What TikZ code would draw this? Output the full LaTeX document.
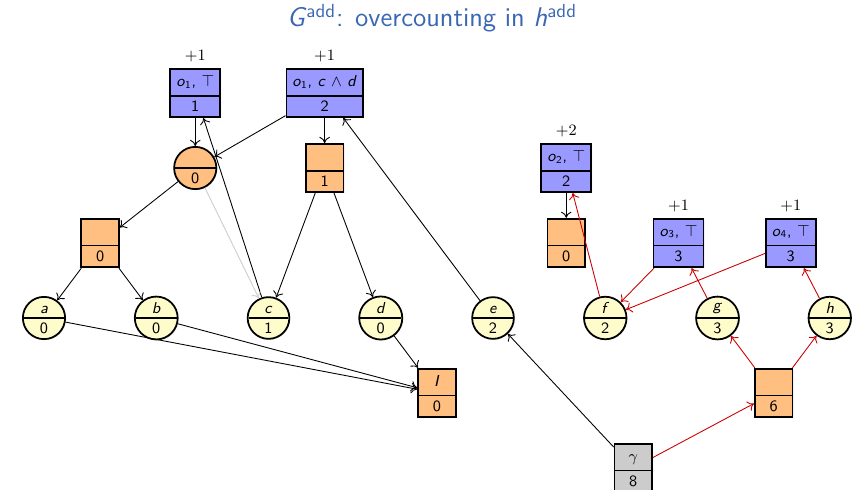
\documentclass[tikz,border=0pt]{standalone}
\usepackage{tikz}
\usetikzlibrary{arrows.meta,positioning,shadows,shapes.multipart}
\renewcommand{\familydefault}{\sfdefault}
\definecolor{titleblue}{RGB}{58,103,178}

\begin{document}
\begin{tikzpicture} [
		auto,
		node distance = 1.5cm and 2.245cm, on grid,
		every node/.style = {font=\small},
		fact/.style   = { circle split, draw=black, line width=1pt,
			fill=yellow!20, minimum size=0.8cm, inner sep=2.2pt,
			drop shadow={shadow xshift=.5pt, shadow yshift=-.5pt, opacity=.35} },
		ofact/.style  = { fact, fill=orange!50 },
		union/.style  = { rectangle split, rectangle split parts=2, draw=black,
			line width=1pt, fill=orange!50, minimum width=0.75cm,
			text height=2.4mm, text depth=0.8mm, inner ysep=0.9mm, inner xsep=1.2mm,
			text centered,
			drop shadow={shadow xshift=.5pt, shadow yshift=-.5pt, opacity=.35} },
		action/.style = { union, fill=blue!40 },
		cost/.style   = { label={[label distance=0pt]above:$+#1$} },
		goal/.style   = { union, fill=black!20 },
		line/.style   = { draw, line width=0.5pt, -{To[length=3.5pt, width=6pt]} },
	]
	\useasboundingbox (0,0) rectangle (17.04,9.78);
	% title
	\node [font=\fontsize{15.4}{18}\selectfont, text=titleblue] (title) at (8.64,9.42)
		{\textit{G}\textsuperscript{add}: overcounting in \textit{h}\textsuperscript{add}};
	% facts in one row
	\begin{scope}
		\node [fact] (a) at (0.88,3.42) {\textit{a} \nodepart{lower} 0};
		\node [fact, right=of a] (b) {\textit{b} \nodepart{lower} 0};
		\node [fact, right=of b] (c) {\textit{c} \nodepart{lower} 1};
		\node [fact, right=of c] (d) {\textit{d} \nodepart{lower} 0};
		\node [fact, right=of d] (e) {\textit{e} \nodepart{lower} 2};
		\node [fact, right=of e] (f) {\textit{f} \nodepart{lower} 2};
		\node [fact, right=of f] (g) {\textit{g} \nodepart{lower} 3};
		\node [fact, right=of g] (h) {\textit{h} \nodepart{lower} 3};
	\end{scope}
	% left part
	\begin{scope}
		\node [union, above right=1.5cm and 1.1225cm of a] (ab) {\nodepart{two} 0};
		\node [ofact, above right=3cm and 0.78cm of b] (pre1) {\nodepart{lower} 0};
		\node [action, cost=1, above=of pre1] (o1t) {\textit{o}\textsubscript{1}, $\top$ \nodepart{two} 1};
		\node [union, above right=3cm and 1.1225cm of c] (cd) {\nodepart{two} 1};
		\node [action, cost=1, above=of cd] (o1cd) {\textit{o}\textsubscript{1}, \textit{c} $\wedge$ \textit{d} \nodepart{two} 2};
		\node [union, below right=1.5cm and 1.1225cm of d] (I) {\textit{I} \nodepart{two} 0};
	\end{scope}
	% right part
	\begin{scope}
		\node [union, above left=1.5cm and 0.78cm of f] (pre2) {\nodepart{two} 0};
		\node [action, cost=2, above=of pre2] (o2) {\textit{o}\textsubscript{2}, $\top$ \nodepart{two} 2};
		\node [action, cost=1, above left=1.5cm and 0.78cm of g] (o3) {\textit{o}\textsubscript{3}, $\top$ \nodepart{two} 3};
		\node [action, cost=1, above left=1.5cm and 0.78cm of h] (o4) {\textit{o}\textsubscript{4}, $\top$ \nodepart{two} 3};
		\node [union, below right=1.5cm and 1.1225cm of g] (gh) {\nodepart{two} 6};
		\node [goal, below right=3cm and 0.56cm of f] (gamma) {$\gamma$ \nodepart{two} 8};
	\end{scope}
	% connect all nodes defined above
	\begin{scope} [every path/.style=line]
		\path (o1t)  -- (pre1);
		\path (o1cd) -- (pre1);
		\path (o1cd) -- (cd);
		\path (pre1) -- (ab);
		\path (ab)   -- (a);
		\path (ab)   -- (b);
		\path (cd)   -- (c);
		\path (cd)   -- (d);
		\path (c)    -- (o1t);
		\path (a)    -- (I);
		\path (b)    -- (I);
		\path (d)    -- (I);
		\path (e)    -- (o1cd);
		\path (gamma) -- (e);
		\path (o2)   -- (pre2);
		\path [draw=black!20] (pre1) -- (c);
	\end{scope}
	\begin{scope} [every path/.style={line, draw=red!80!black}]
		\path (gamma) -- (gh);
		\path (gh) -- (g);
		\path (gh) -- (h);
		\path (g)  -- (o3);
		\path (h)  -- (o4);
		\path (o3) -- (f);
		\path (o4) -- (f);
		\path (f)  -- (o2);
	\end{scope}
\end{tikzpicture}
\end{document}
